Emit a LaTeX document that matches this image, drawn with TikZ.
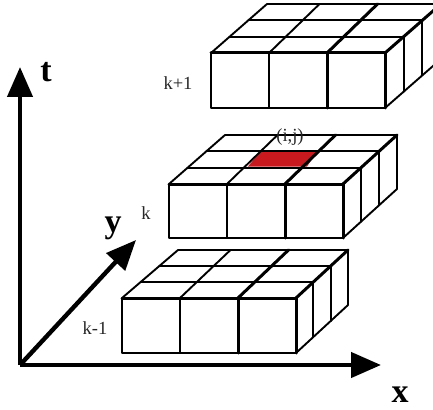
\documentclass[tikz,border=0pt]{standalone}
\usepackage{fontspec}
\setmainfont{Liberation Serif}
\usetikzlibrary{calc,arrows.meta}
\definecolor{cellred}{RGB}{200,25,30}
\tikzset{
  x=1pt,y=-1pt,
  thin line/.style={line width=1.9pt,black,line join=round,line cap=round},
  heavy line/.style={line width=3pt,black,line join=round,line cap=round},
  axis line/.style={line width=4.4pt,black,-{Triangle[length=30pt,width=25pt]},shorten >=0pt},
  small label/.style={font=\fontsize{18.5}{20}\selectfont,text=black!85,inner sep=0pt},
  axis label/.style={font=\fontsize{34}{36}\selectfont\bfseries,inner sep=0pt}
}
% #1 front-left x, #2 front-top y, #3 front width, #4 height,
% #5 back-left offset x, #6 back-right offset x, #7 back offset y (up), #8 name
\newcommand{\gridblock}[8]{%
  \coordinate (#8fl) at (#1,#2);
  \coordinate (#8fr) at (#1+#3,#2);
  \coordinate (#8bl) at (#1+#5,#2-#7);
  \coordinate (#8br) at (#1+#3+#6,#2-#7);
  \coordinate (#8dl) at (#1,#2+#4);
  \coordinate (#8dr) at (#1+#3,#2+#4);
  \coordinate (#8dbr) at (#1+#3+#6,#2+#4-#7);
  \coordinate (#8ca) at (#1+#3/3,#2);
  \coordinate (#8cb) at (#1+2*#3/3,#2);
  \coordinate (#8cc) at (#1+#3/3+50.5,#2-#7);
  \coordinate (#8cd) at (#1+2*#3/3+50.5,#2-#7);
  \coordinate (#8da) at (#1+#3/3,#2+#4);
  \coordinate (#8db) at (#1+2*#3/3,#2+#4);
  \foreach \t in {1/3,2/3}{
    \draw[thin line] ($(#8fl)!\t!(#8bl)$) -- ($(#8fr)!\t!(#8br)$);
    \draw[thin line] ($(#8fr)!\t!(#8br)$) -- ($(#8dr)!\t!(#8dbr)$);
  }
  \draw[thin line] (#8ca) -- (#8cc);
  \draw[heavy line] (#8cb) -- (#8cd);
  \draw[thin line] (#8bl) -- (#8br) -- (#8dbr) -- (#8dr);
  \draw[thin line] (#8fl) -- (#8bl);
  \draw[heavy line] (#8fr) -- (#8br);
  \draw[thin line] (#8fl) -- (#8dl) -- (#8dr);
  \draw[thin line] (#8ca) -- (#8da);
  \draw[heavy line] (#8cb) -- (#8db);
  \draw[heavy line] (#8fr) -- (#8dr);
  \draw[heavy line] (#8fl) -- (#8fr);
}
\begin{document}
\begin{tikzpicture}
\useasboundingbox (0,0) rectangle (433,409);
\clip (0,0) rectangle (433,409);
% upper block
\gridblock{211}{53}{174}{55}{56}{56}{49}{u}
% middle block with the red cell
\fill[cellred] (260,152) -- (317,152) -- (307,166.5) -- (248,166.5) -- cycle;
\gridblock{169}{184}{174}{54}{56}{54}{49}{m}
% lower block
\gridblock{122}{298}{174}{55}{56}{52}{48}{l}
% axes
\coordinate (origin) at (20,365);
\coordinate (tend) at (20,67);
\coordinate (xend) at (381,365);
\coordinate (yend) at (136,240);
\draw[axis line] (origin) -- (tend);
\draw[axis line] (origin) -- (xend);
\draw[axis line] (origin) -- (yend);
% labels
\node[axis label] (tl) at (46,72) {t};
\node[axis label] (yl) at (113,228) {y};
\node[axis label] (xl) at (400,395) {x};
\node[small label] (kp) at (178,83) {k+1};
\node[small label] (kc) at (146,213) {k};
\node[small label] (km) at (95,328) {k-1};
\node[small label] (ij) at (290,137) {(i,j)};
\end{tikzpicture}
\end{document}
